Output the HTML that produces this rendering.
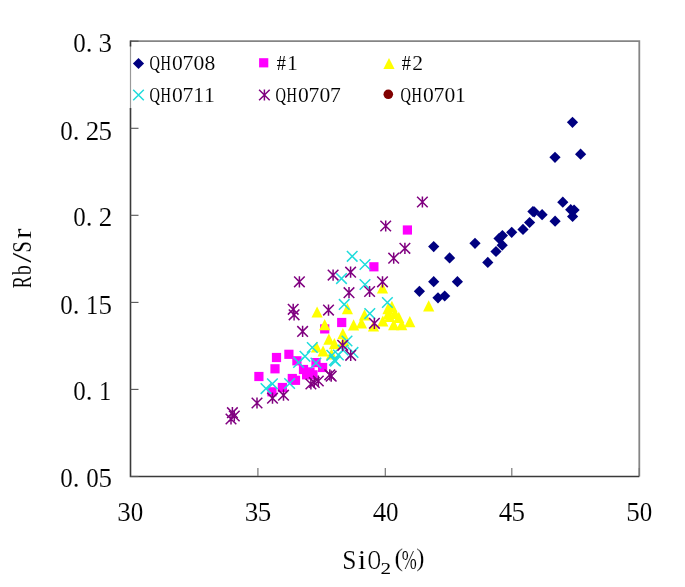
<!DOCTYPE html>
<html><head><meta charset="utf-8"><style>
html,body{margin:0;padding:0;background:#fff;}
svg{display:block;will-change:transform;}
text{font-family:"Liberation Serif",serif;fill:#000;stroke:#fff;stroke-width:0.1px;}
</style></head><body>
<svg width="685" height="587" viewBox="0 0 685 587">
<rect width="685" height="587" fill="#fff"/>
<path d="M130.5 41.2H639.3V476.5" stroke="#858585" stroke-width="1.8" fill="none"/>
<path d="M130.5 45V110" stroke="#999" stroke-width="1.2" fill="none"/>
<path d="M130.5 40.4V46.5M130.5 108V476.5H639.3" stroke="#3a3a3a" stroke-width="1.6" fill="none"/>

<path d="M257.9 476V468" stroke="#777" stroke-width="1.2"/>
<path d="M385.3 476V468" stroke="#777" stroke-width="1.2"/>
<path d="M511.8 476V468" stroke="#777" stroke-width="1.2"/>
<path d="M639.3 476V468" stroke="#777" stroke-width="1.2"/>
<path d="M130.5 476.5H138.5" stroke="#555" stroke-width="1.1"/>
<path d="M130.5 389.4H138.5" stroke="#555" stroke-width="1.1"/>
<path d="M130.5 302.4H138.5" stroke="#555" stroke-width="1.1"/>
<path d="M130.5 215.3H138.5" stroke="#555" stroke-width="1.1"/>
<path d="M130.5 128.3H138.5" stroke="#555" stroke-width="1.1"/>
<path d="M130.5 41.2H138.5" stroke="#555" stroke-width="1.1"/>
<path d="M572.5 116.7L578.1 122.3L572.5 127.9L566.9 122.3Z" fill="#000080"/>
<path d="M555.0 151.7L560.6 157.3L555.0 162.9L549.4 157.3Z" fill="#000080"/>
<path d="M580.6 148.6L586.2 154.2L580.6 159.8L575.0 154.2Z" fill="#000080"/>
<path d="M562.8 196.6L568.4 202.2L562.8 207.8L557.2 202.2Z" fill="#000080"/>
<path d="M570.7 204.1L576.3 209.7L570.7 215.3L565.1 209.7Z" fill="#000080"/>
<path d="M574.1 204.4L579.7 210.0L574.1 215.6L568.5 210.0Z" fill="#000080"/>
<path d="M572.6 210.9L578.2 216.5L572.6 222.1L567.0 216.5Z" fill="#000080"/>
<path d="M555.1 215.6L560.7 221.2L555.1 226.8L549.5 221.2Z" fill="#000080"/>
<path d="M532.9 205.9L538.5 211.5L532.9 217.1L527.3 211.5Z" fill="#000080"/>
<path d="M534.2 206.2L539.8 211.8L534.2 217.4L528.6 211.8Z" fill="#000080"/>
<path d="M542.1 209.1L547.7 214.7L542.1 220.3L536.5 214.7Z" fill="#000080"/>
<path d="M529.6 216.9L535.2 222.5L529.6 228.1L524.0 222.5Z" fill="#000080"/>
<path d="M523.0 223.8L528.6 229.4L523.0 235.0L517.4 229.4Z" fill="#000080"/>
<path d="M511.7 226.7L517.3 232.3L511.7 237.9L506.1 232.3Z" fill="#000080"/>
<path d="M502.4 230.0L508.0 235.6L502.4 241.2L496.8 235.6Z" fill="#000080"/>
<path d="M499.0 232.9L504.6 238.5L499.0 244.1L493.4 238.5Z" fill="#000080"/>
<path d="M502.2 239.6L507.8 245.2L502.2 250.8L496.6 245.2Z" fill="#000080"/>
<path d="M496.0 245.9L501.6 251.5L496.0 257.1L490.4 251.5Z" fill="#000080"/>
<path d="M487.8 256.8L493.4 262.4L487.8 268.0L482.2 262.4Z" fill="#000080"/>
<path d="M475.0 237.7L480.6 243.3L475.0 248.9L469.4 243.3Z" fill="#000080"/>
<path d="M449.6 252.3L455.2 257.9L449.6 263.5L444.0 257.9Z" fill="#000080"/>
<path d="M433.7 241.0L439.3 246.6L433.7 252.2L428.1 246.6Z" fill="#000080"/>
<path d="M433.7 276.1L439.3 281.7L433.7 287.3L428.1 281.7Z" fill="#000080"/>
<path d="M457.4 276.1L463.0 281.7L457.4 287.3L451.8 281.7Z" fill="#000080"/>
<path d="M419.4 285.7L425.0 291.3L419.4 296.9L413.8 291.3Z" fill="#000080"/>
<path d="M438.0 292.2L443.6 297.8L438.0 303.4L432.4 297.8Z" fill="#000080"/>
<path d="M444.7 290.4L450.3 296.0L444.7 301.6L439.1 296.0Z" fill="#000080"/>
<rect x="402.8" y="225.4" width="9.2" height="9.2" fill="#FF00FF"/>
<rect x="369.3" y="262.2" width="9.2" height="9.2" fill="#FF00FF"/>
<rect x="337.1" y="317.9" width="9.2" height="9.2" fill="#FF00FF"/>
<rect x="320.1" y="324.3" width="9.2" height="9.2" fill="#FF00FF"/>
<rect x="271.9" y="352.9" width="9.2" height="9.2" fill="#FF00FF"/>
<rect x="284.3" y="349.7" width="9.2" height="9.2" fill="#FF00FF"/>
<rect x="270.4" y="364.2" width="9.2" height="9.2" fill="#FF00FF"/>
<rect x="254.3" y="371.9" width="9.2" height="9.2" fill="#FF00FF"/>
<rect x="292.3" y="356.2" width="9.2" height="9.2" fill="#FF00FF"/>
<rect x="298.9" y="364.9" width="9.2" height="9.2" fill="#FF00FF"/>
<rect x="302.4" y="367.8" width="9.2" height="9.2" fill="#FF00FF"/>
<rect x="311.4" y="358.0" width="9.2" height="9.2" fill="#FF00FF"/>
<rect x="318.0" y="362.9" width="9.2" height="9.2" fill="#FF00FF"/>
<rect x="287.7" y="373.9" width="9.2" height="9.2" fill="#FF00FF"/>
<rect x="290.9" y="375.7" width="9.2" height="9.2" fill="#FF00FF"/>
<rect x="277.8" y="382.9" width="9.2" height="9.2" fill="#FF00FF"/>
<rect x="267.4" y="387.2" width="9.2" height="9.2" fill="#FF00FF"/>
<rect x="302.0" y="370.2" width="9.2" height="9.2" fill="#FF00FF"/>
<rect x="308.4" y="370.2" width="9.2" height="9.2" fill="#FF00FF"/>
<rect x="305.4" y="367.4" width="9.2" height="9.2" fill="#FF00FF"/>
<path d="M428.7 300.2L434.3 311.4L423.1 311.4Z" fill="#FFFF00"/>
<path d="M409.8 316.1L415.4 327.3L404.2 327.3Z" fill="#FFFF00"/>
<path d="M398.8 311.8L404.4 323.0L393.2 323.0Z" fill="#FFFF00"/>
<path d="M382.5 282.4L388.1 293.6L376.9 293.6Z" fill="#FFFF00"/>
<path d="M391.9 300.8L397.5 312.0L386.3 312.0Z" fill="#FFFF00"/>
<path d="M382.8 315.4L388.4 326.6L377.2 326.6Z" fill="#FFFF00"/>
<path d="M393.7 319.0L399.3 330.2L388.1 330.2Z" fill="#FFFF00"/>
<path d="M401.7 319.0L407.3 330.2L396.1 330.2Z" fill="#FFFF00"/>
<path d="M373.5 320.4L379.1 331.6L367.9 331.6Z" fill="#FFFF00"/>
<path d="M364.5 309.2L370.1 320.4L358.9 320.4Z" fill="#FFFF00"/>
<path d="M353.6 319.3L359.2 330.5L348.0 330.5Z" fill="#FFFF00"/>
<path d="M347.4 303.1L353.0 314.3L341.8 314.3Z" fill="#FFFF00"/>
<path d="M317.1 306.4L322.7 317.6L311.5 317.6Z" fill="#FFFF00"/>
<path d="M324.7 319.0L330.3 330.2L319.1 330.2Z" fill="#FFFF00"/>
<path d="M361.5 317.4L367.1 328.6L355.9 328.6Z" fill="#FFFF00"/>
<path d="M388.0 303.1L393.6 314.3L382.4 314.3Z" fill="#FFFF00"/>
<path d="M388.5 307.9L394.1 319.1L382.9 319.1Z" fill="#FFFF00"/>
<path d="M342.9 328.1L348.5 339.3L337.3 339.3Z" fill="#FFFF00"/>
<path d="M328.9 333.6L334.5 344.8L323.3 344.8Z" fill="#FFFF00"/>
<path d="M334.4 338.0L340.0 349.2L328.8 349.2Z" fill="#FFFF00"/>
<path d="M323.1 345.4L328.7 356.6L317.5 356.6Z" fill="#FFFF00"/>
<path d="M316.5 341.4L322.1 352.6L310.9 352.6Z" fill="#FFFF00"/>
<path d="M331.5 348.4L337.1 359.6L325.9 359.6Z" fill="#FFFF00"/>
<path d="M344.0 335.4L349.6 346.6L338.4 346.6Z" fill="#FFFF00"/>
<path d="M389.5 310.9L395.1 322.1L383.9 322.1Z" fill="#FFFF00"/>
<path d="M395.0 307.9L400.6 319.1L389.4 319.1Z" fill="#FFFF00"/>
<path d="M346.9 251.0L357.5 261.6M346.9 261.6L357.5 251.0" stroke="#1EDCDC" stroke-width="1.5" fill="none"/>
<path d="M359.7 259.2L370.3 269.8M359.7 269.8L370.3 259.2" stroke="#1EDCDC" stroke-width="1.5" fill="none"/>
<path d="M336.2 273.3L346.8 283.9M336.2 283.9L346.8 273.3" stroke="#1EDCDC" stroke-width="1.5" fill="none"/>
<path d="M359.7 279.2L370.3 289.8M359.7 289.8L370.3 279.2" stroke="#1EDCDC" stroke-width="1.5" fill="none"/>
<path d="M382.1 297.2L392.7 307.8M382.1 307.8L392.7 297.2" stroke="#1EDCDC" stroke-width="1.5" fill="none"/>
<path d="M364.5 308.3L375.1 318.9M364.5 318.9L375.1 308.3" stroke="#1EDCDC" stroke-width="1.5" fill="none"/>
<path d="M338.9 299.1L349.5 309.7M338.9 309.7L349.5 299.1" stroke="#1EDCDC" stroke-width="1.5" fill="none"/>
<path d="M341.7 335.7L352.3 346.3M341.7 346.3L352.3 335.7" stroke="#1EDCDC" stroke-width="1.5" fill="none"/>
<path d="M347.7 347.1L358.3 357.7M347.7 357.7L358.3 347.1" stroke="#1EDCDC" stroke-width="1.5" fill="none"/>
<path d="M329.1 354.9L339.7 365.5M329.1 365.5L339.7 354.9" stroke="#1EDCDC" stroke-width="1.5" fill="none"/>
<path d="M333.1 349.7L343.7 360.3M333.1 360.3L343.7 349.7" stroke="#1EDCDC" stroke-width="1.5" fill="none"/>
<path d="M337.7 344.7L348.3 355.3M337.7 355.3L348.3 344.7" stroke="#1EDCDC" stroke-width="1.5" fill="none"/>
<path d="M307.0 342.2L317.6 352.8M307.0 352.8L317.6 342.2" stroke="#1EDCDC" stroke-width="1.5" fill="none"/>
<path d="M299.7 351.0L310.3 361.6M299.7 361.6L310.3 351.0" stroke="#1EDCDC" stroke-width="1.5" fill="none"/>
<path d="M293.3 357.2L303.9 367.8M293.3 367.8L303.9 357.2" stroke="#1EDCDC" stroke-width="1.5" fill="none"/>
<path d="M310.6 357.7L321.2 368.3M310.6 368.3L321.2 357.7" stroke="#1EDCDC" stroke-width="1.5" fill="none"/>
<path d="M326.5 350.0L337.1 360.6M326.5 360.6L337.1 350.0" stroke="#1EDCDC" stroke-width="1.5" fill="none"/>
<path d="M284.3 378.2L294.9 388.8M284.3 388.8L294.9 378.2" stroke="#1EDCDC" stroke-width="1.5" fill="none"/>
<path d="M267.1 378.5L277.7 389.1M267.1 389.1L277.7 378.5" stroke="#1EDCDC" stroke-width="1.5" fill="none"/>
<path d="M260.7 383.3L271.3 393.9M260.7 393.9L271.3 383.3" stroke="#1EDCDC" stroke-width="1.5" fill="none"/>
<path d="M330.1 355.8L340.7 366.4M330.1 366.4L340.7 355.8" stroke="#1EDCDC" stroke-width="1.5" fill="none"/>
<path d="M417.1 196.7L427.7 207.3M417.1 207.3L427.7 196.7M422.4 196.4L422.4 207.6" stroke="#800080" stroke-width="1.5" fill="none"/>
<path d="M380.4 220.7L391.0 231.3M380.4 231.3L391.0 220.7M385.7 220.4L385.7 231.6" stroke="#800080" stroke-width="1.5" fill="none"/>
<path d="M399.6 243.0L410.2 253.6M399.6 253.6L410.2 243.0M404.9 242.7L404.9 253.9" stroke="#800080" stroke-width="1.5" fill="none"/>
<path d="M388.4 252.9L399.0 263.5M388.4 263.5L399.0 252.9M393.7 252.6L393.7 263.8" stroke="#800080" stroke-width="1.5" fill="none"/>
<path d="M345.3 266.9L355.9 277.5M345.3 277.5L355.9 266.9M350.6 266.6L350.6 277.8" stroke="#800080" stroke-width="1.5" fill="none"/>
<path d="M327.8 269.8L338.4 280.4M327.8 280.4L338.4 269.8M333.1 269.5L333.1 280.7" stroke="#800080" stroke-width="1.5" fill="none"/>
<path d="M377.2 276.5L387.8 287.1M377.2 287.1L387.8 276.5M382.5 276.2L382.5 287.4" stroke="#800080" stroke-width="1.5" fill="none"/>
<path d="M364.3 286.2L374.9 296.8M364.3 296.8L374.9 286.2M369.6 285.9L369.6 297.1" stroke="#800080" stroke-width="1.5" fill="none"/>
<path d="M343.7 287.4L354.3 298.0M343.7 298.0L354.3 287.4M349.0 287.1L349.0 298.3" stroke="#800080" stroke-width="1.5" fill="none"/>
<path d="M294.1 276.5L304.7 287.1M294.1 287.1L304.7 276.5M299.4 276.2L299.4 287.4" stroke="#800080" stroke-width="1.5" fill="none"/>
<path d="M287.9 304.0L298.5 314.6M287.9 314.6L298.5 304.0M293.2 303.7L293.2 314.9" stroke="#800080" stroke-width="1.5" fill="none"/>
<path d="M288.8 309.5L299.4 320.1M288.8 320.1L299.4 309.5M294.1 309.2L294.1 320.4" stroke="#800080" stroke-width="1.5" fill="none"/>
<path d="M323.2 304.8L333.8 315.4M323.2 315.4L333.8 304.8M328.5 304.5L328.5 315.7" stroke="#800080" stroke-width="1.5" fill="none"/>
<path d="M297.3 326.1L307.9 336.7M297.3 336.7L307.9 326.1M302.6 325.8L302.6 337.0" stroke="#800080" stroke-width="1.5" fill="none"/>
<path d="M369.1 318.0L379.7 328.6M369.1 328.6L379.7 318.0M374.4 317.7L374.4 328.9" stroke="#800080" stroke-width="1.5" fill="none"/>
<path d="M337.4 340.0L348.0 350.6M337.4 350.6L348.0 340.0M342.7 339.7L342.7 350.9" stroke="#800080" stroke-width="1.5" fill="none"/>
<path d="M345.4 350.0L356.0 360.6M345.4 360.6L356.0 350.0M350.7 349.7L350.7 360.9" stroke="#800080" stroke-width="1.5" fill="none"/>
<path d="M324.5 369.5L335.1 380.1M324.5 380.1L335.1 369.5M329.8 369.2L329.8 380.4" stroke="#800080" stroke-width="1.5" fill="none"/>
<path d="M325.9 370.9L336.5 381.5M325.9 381.5L336.5 370.9M331.2 370.6L331.2 381.8" stroke="#800080" stroke-width="1.5" fill="none"/>
<path d="M313.0 375.7L323.6 386.3M313.0 386.3L323.6 375.7M318.3 375.4L318.3 386.6" stroke="#800080" stroke-width="1.5" fill="none"/>
<path d="M309.0 377.2L319.6 387.8M309.0 387.8L319.6 377.2M314.3 376.9L314.3 388.1" stroke="#800080" stroke-width="1.5" fill="none"/>
<path d="M305.6 378.7L316.2 389.3M305.6 389.3L316.2 378.7M310.9 378.4L310.9 389.6" stroke="#800080" stroke-width="1.5" fill="none"/>
<path d="M278.2 389.9L288.8 400.5M278.2 400.5L288.8 389.9M283.5 389.6L283.5 400.8" stroke="#800080" stroke-width="1.5" fill="none"/>
<path d="M267.2 392.9L277.8 403.5M267.2 403.5L277.8 392.9M272.5 392.6L272.5 403.8" stroke="#800080" stroke-width="1.5" fill="none"/>
<path d="M251.7 397.7L262.3 408.3M251.7 408.3L262.3 397.7M257.0 397.4L257.0 408.6" stroke="#800080" stroke-width="1.5" fill="none"/>
<path d="M227.1 407.4L237.7 418.0M227.1 418.0L237.7 407.4M232.4 407.1L232.4 418.3" stroke="#800080" stroke-width="1.5" fill="none"/>
<path d="M229.0 410.7L239.6 421.3M229.0 421.3L239.6 410.7M234.3 410.4L234.3 421.6" stroke="#800080" stroke-width="1.5" fill="none"/>
<path d="M225.7 413.7L236.3 424.3M225.7 424.3L236.3 413.7M231.0 413.4L231.0 424.6" stroke="#800080" stroke-width="1.5" fill="none"/>
<path d="M138.5 57.9L144.1 63.5L138.5 69.1L132.9 63.5Z" fill="#000080"/>
<rect x="259.1" y="58.2" width="9.2" height="9.2" fill="#FF00FF"/>
<path d="M389.0 57.9L394.6 69.1L383.4 69.1Z" fill="#FFFF00"/>
<path d="M133.2 89.7L143.8 100.3M133.2 100.3L143.8 89.7" stroke="#1EDCDC" stroke-width="1.5" fill="none"/>
<path d="M259.1 89.7L269.7 100.3M259.1 100.3L269.7 89.7M264.4 89.4L264.4 100.6" stroke="#800080" stroke-width="1.5" fill="none"/>
<circle cx="388.3" cy="94.3" r="4.8" fill="#800000"/>
<text transform="translate(79.40,51.70) scale(0.926,1)" x="-6.75" font-size="27">0</text>
<text transform="translate(89.20,51.70) scale(1.000,1)" x="-3.38" font-size="27">.</text>
<text transform="translate(105.40,51.70) scale(1.000,1)" x="-6.87" font-size="27">3</text>
<text transform="translate(66.40,139.60) scale(0.926,1)" x="-6.75" font-size="27">0</text>
<text transform="translate(76.20,139.60) scale(1.000,1)" x="-3.38" font-size="27">.</text>
<text transform="translate(92.40,139.60) scale(1.000,1)" x="-6.60" font-size="27">2</text>
<text transform="translate(105.40,139.60) scale(1.000,1)" x="-7.01" font-size="27">5</text>
<text transform="translate(79.40,225.60) scale(0.926,1)" x="-6.75" font-size="27">0</text>
<text transform="translate(89.20,225.60) scale(1.000,1)" x="-3.38" font-size="27">.</text>
<text transform="translate(105.40,225.60) scale(1.000,1)" x="-6.60" font-size="27">2</text>
<text transform="translate(66.40,313.60) scale(0.926,1)" x="-6.75" font-size="27">0</text>
<text transform="translate(76.20,313.60) scale(1.000,1)" x="-3.38" font-size="27">.</text>
<text transform="translate(92.40,313.60) scale(0.905,1)" x="-7.13" font-size="27">1</text>
<text transform="translate(105.40,313.60) scale(1.000,1)" x="-7.01" font-size="27">5</text>
<text transform="translate(79.40,399.50) scale(0.926,1)" x="-6.75" font-size="27">0</text>
<text transform="translate(89.20,399.50) scale(1.000,1)" x="-3.38" font-size="27">.</text>
<text transform="translate(105.40,399.50) scale(0.905,1)" x="-7.13" font-size="27">1</text>
<text transform="translate(66.40,487.40) scale(0.926,1)" x="-6.75" font-size="27">0</text>
<text transform="translate(76.20,487.40) scale(1.000,1)" x="-3.38" font-size="27">.</text>
<text transform="translate(92.40,487.40) scale(0.926,1)" x="-6.75" font-size="27">0</text>
<text transform="translate(105.40,487.40) scale(1.000,1)" x="-7.01" font-size="27">5</text>
<text transform="translate(124.00,520.80) scale(1.000,1)" x="-6.87" font-size="27" style="stroke-width:0.1px">3</text>
<text transform="translate(137.00,520.80) scale(0.926,1)" x="-6.75" font-size="27" style="stroke-width:0.1px">0</text>
<text transform="translate(251.60,520.80) scale(1.000,1)" x="-6.87" font-size="27" style="stroke-width:0.1px">3</text>
<text transform="translate(264.80,520.80) scale(1.000,1)" x="-7.01" font-size="27" style="stroke-width:0.1px">5</text>
<text transform="translate(379.60,520.80) scale(1.000,1)" x="-6.80" font-size="27" style="stroke-width:0.1px">4</text>
<text transform="translate(392.30,520.80) scale(0.926,1)" x="-6.75" font-size="27" style="stroke-width:0.1px">0</text>
<text transform="translate(505.50,520.80) scale(1.000,1)" x="-6.80" font-size="27" style="stroke-width:0.1px">4</text>
<text transform="translate(518.40,520.80) scale(1.000,1)" x="-7.01" font-size="27" style="stroke-width:0.1px">5</text>
<text transform="translate(633.20,520.80) scale(1.000,1)" x="-7.01" font-size="27" style="stroke-width:0.1px">5</text>
<text transform="translate(646.00,520.80) scale(0.926,1)" x="-6.75" font-size="27" style="stroke-width:0.1px">0</text>
<text transform="translate(349.30,568.50) scale(0.963,1)" x="-7.43" font-size="26.5" style="stroke-width:0.15px">S</text>
<text transform="translate(362.10,568.50) scale(1.158,1)" x="-3.71" font-size="26.5" style="stroke-width:0.15px">i</text>
<text transform="translate(374.40,568.50) scale(0.684,1)" x="-9.57" font-size="26.5" style="stroke-width:0.15px">O</text>
<text transform="translate(385.60,574.30) scale(1.212,1)" x="-4.28" font-size="17.5" style="stroke-width:0px">2</text>
<text transform="translate(398.90,566.20) scale(1.028,1)" x="-4.31" font-size="25" style="stroke-width:0.15px">(</text>
<text transform="translate(409.20,568.50) scale(0.681,1)" x="-11.04" font-size="26.5" style="stroke-width:0.15px">%</text>
<text transform="translate(420.10,566.20) scale(0.981,1)" x="-4.02" font-size="25" style="stroke-width:0.15px">)</text>
<text transform="translate(31.20,282.00) rotate(-90) scale(0.682,1)" x="-9.20" font-size="26.5" style="stroke-width:0.1px">R</text>
<text transform="translate(31.20,270.50) rotate(-90) scale(0.735,1)" x="-6.12" font-size="26.5" style="stroke-width:0.1px">b</text>
<text transform="translate(31.20,257.70) rotate(-90) scale(1.385,1)" x="-3.68" font-size="26.5" style="stroke-width:0.1px">/</text>
<text transform="translate(31.20,246.90) rotate(-90) scale(0.786,1)" x="-7.43" font-size="26.5" style="stroke-width:0.1px">S</text>
<text transform="translate(31.20,233.70) rotate(-90) scale(1.178,1)" x="-4.56" font-size="26.5" style="stroke-width:0.1px">r</text>
<text transform="translate(154.90,69.60) scale(0.669,1)" x="-8.06" font-size="21.6" style="stroke-width:0px">Q</text>
<text transform="translate(165.70,69.60) scale(0.669,1)" x="-7.79" font-size="21.6" style="stroke-width:0px">H</text>
<text transform="translate(177.40,69.60) scale(1.000,1)" x="-5.40" font-size="21.6" style="stroke-width:0.1px">0</text>
<text transform="translate(188.20,69.60) scale(1.000,1)" x="-5.80" font-size="21.6" style="stroke-width:0.1px">7</text>
<text transform="translate(199.00,69.60) scale(1.000,1)" x="-5.40" font-size="21.6" style="stroke-width:0.1px">0</text>
<text transform="translate(209.80,69.60) scale(1.000,1)" x="-5.40" font-size="21.6" style="stroke-width:0.1px">8</text>
<text transform="translate(154.90,101.50) scale(0.669,1)" x="-8.06" font-size="21.6" style="stroke-width:0px">Q</text>
<text transform="translate(165.70,101.50) scale(0.669,1)" x="-7.79" font-size="21.6" style="stroke-width:0px">H</text>
<text transform="translate(177.40,101.50) scale(1.000,1)" x="-5.40" font-size="21.6" style="stroke-width:0.1px">0</text>
<text transform="translate(188.20,101.50) scale(1.000,1)" x="-5.80" font-size="21.6" style="stroke-width:0.1px">7</text>
<text transform="translate(199.00,101.50) scale(1.000,1)" x="-5.70" font-size="21.6" style="stroke-width:0.1px">1</text>
<text transform="translate(209.80,101.50) scale(1.000,1)" x="-5.70" font-size="21.6" style="stroke-width:0.1px">1</text>
<text transform="translate(281.40,69.60) scale(0.848,1)" x="-5.40" font-size="21.6" style="stroke-width:0px">#</text>
<text transform="translate(292.60,69.60) scale(1.000,1)" x="-5.70" font-size="21.6" style="stroke-width:0.1px">1</text>
<text transform="translate(280.90,101.50) scale(0.669,1)" x="-8.06" font-size="21.6" style="stroke-width:0px">Q</text>
<text transform="translate(291.70,101.50) scale(0.669,1)" x="-7.79" font-size="21.6" style="stroke-width:0px">H</text>
<text transform="translate(303.40,101.50) scale(1.000,1)" x="-5.40" font-size="21.6" style="stroke-width:0.1px">0</text>
<text transform="translate(314.20,101.50) scale(1.000,1)" x="-5.80" font-size="21.6" style="stroke-width:0.1px">7</text>
<text transform="translate(325.00,101.50) scale(1.000,1)" x="-5.40" font-size="21.6" style="stroke-width:0.1px">0</text>
<text transform="translate(335.80,101.50) scale(1.000,1)" x="-5.80" font-size="21.6" style="stroke-width:0.1px">7</text>
<text transform="translate(406.40,69.60) scale(0.848,1)" x="-5.40" font-size="21.6" style="stroke-width:0px">#</text>
<text transform="translate(417.60,69.60) scale(1.000,1)" x="-5.28" font-size="21.6" style="stroke-width:0.1px">2</text>
<text transform="translate(405.90,101.50) scale(0.669,1)" x="-8.06" font-size="21.6" style="stroke-width:0px">Q</text>
<text transform="translate(416.70,101.50) scale(0.669,1)" x="-7.79" font-size="21.6" style="stroke-width:0px">H</text>
<text transform="translate(428.40,101.50) scale(1.000,1)" x="-5.40" font-size="21.6" style="stroke-width:0.1px">0</text>
<text transform="translate(439.20,101.50) scale(1.000,1)" x="-5.80" font-size="21.6" style="stroke-width:0.1px">7</text>
<text transform="translate(450.00,101.50) scale(1.000,1)" x="-5.40" font-size="21.6" style="stroke-width:0.1px">0</text>
<text transform="translate(460.80,101.50) scale(1.000,1)" x="-5.70" font-size="21.6" style="stroke-width:0.1px">1</text>
</svg>
</body></html>
